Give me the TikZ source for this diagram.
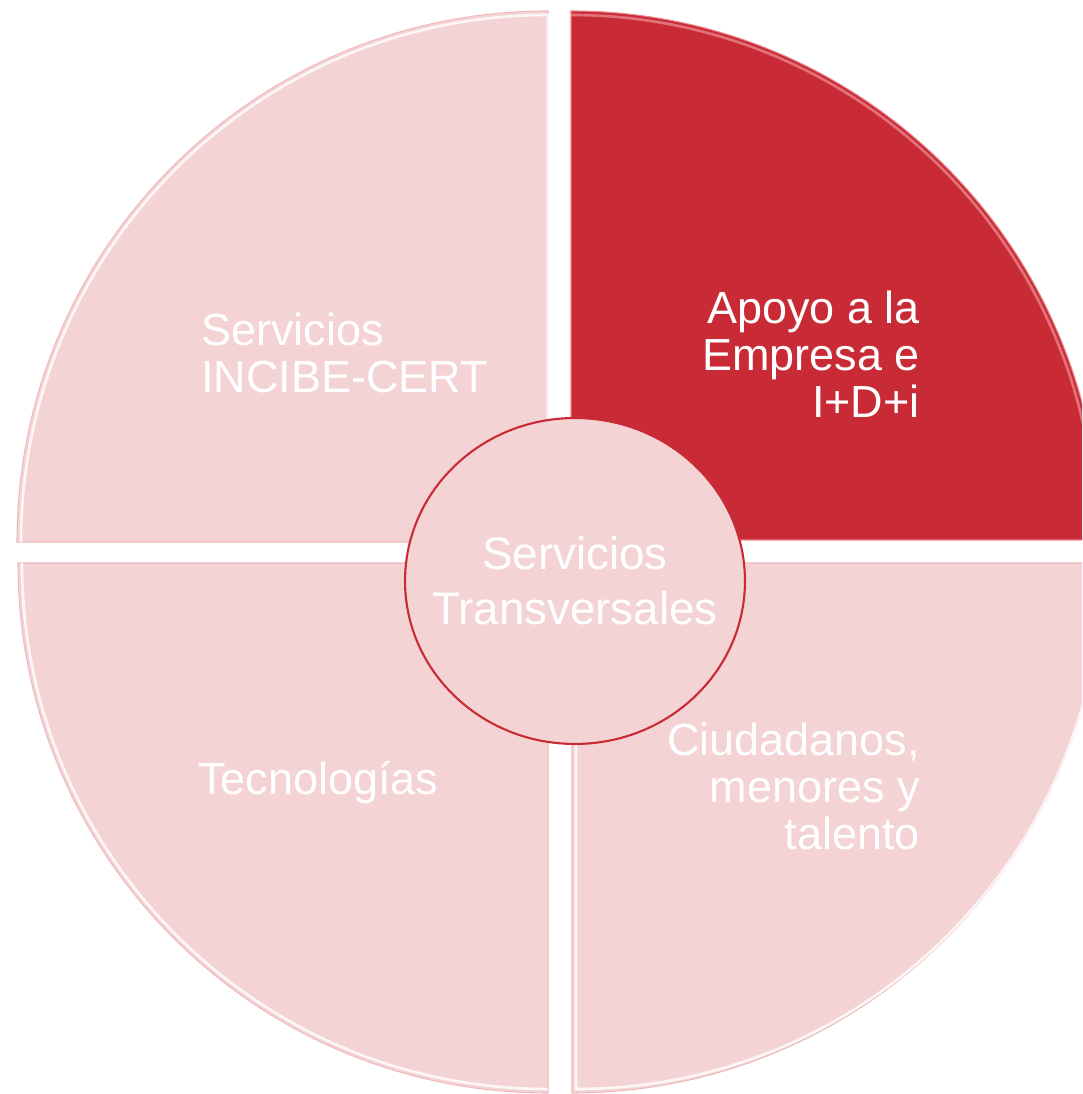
\documentclass[tikz,border=0pt]{standalone}
\usepackage{fontspec}
\setmainfont{Liberation Sans}
\usepackage{xcolor}
\usepackage{tikz}
\usetikzlibrary{shapes.geometric}

\definecolor{segpink}{HTML}{F4D3D5}
\definecolor{segred}{HTML}{C92B36}
\definecolor{rimpink}{HTML}{EFB9BE}
\definecolor{rimred}{HTML}{E9848C}

\begin{document}
\begin{tikzpicture}[
    x=0.02cm, y=0.02cm,
    segment/.style={fill=segpink, draw=rimpink, line width=0.6pt},
    keysegment/.style={fill=segred, draw=rimred, line width=0.6pt},
    rim/.style={draw=white, line width=1.5pt, opacity=0.8},
    label/.style={text=white, inner sep=0pt, font=\fontsize{25.6}{26.7}\selectfont},
    hub/.style={ellipse, draw=segred, line width=1.2pt, fill=segpink, inner sep=0pt,
                minimum width=6.8cm, minimum height=6.52cm},
    hublabel/.style={text=white, inner sep=0pt, align=center,
                font=\fontsize{26}{31.2}\selectfont}
]
\clip (0,0) rectangle (1082,1094);
\useasboundingbox (0,0) rectangle (1082,1094);

% Quarter segments
\path[segment]    (548,552) -- ++(-531,0) arc[start angle=180, end angle=90, radius=531] -- cycle;
\path[keysegment] (571,554) -- ++(0,529) arc[start angle=90, end angle=0, radius=529] -- cycle;
\path[segment]    (548,531) -- ++(-530,0) arc[start angle=180, end angle=270, radius=530] -- cycle;
\path[segment]    (572,531) -- ++(0,-530) arc[start angle=270, end angle=360, radius=530] -- cycle;

% Bevel highlights
\draw[rim] (548,552) ++(-527,0) arc[start angle=180, end angle=90, radius=527] -- ++(0,-527);
\draw[rim, draw=rimred] (571,554) ++(0,525) arc[start angle=90, end angle=0, radius=525];
\draw[rim] (548,531) ++(-526,0) arc[start angle=180, end angle=270, radius=526];
\draw[rim] (572,531) ++(4,0) -- ++(0,-526) arc[start angle=270, end angle=360, radius=526];

% Labels
\node (incibe)     [label, anchor=north west, align=left]  at (201,781) {Servicios\\INCIBE-CERT};
\node (empresa)    [label, anchor=north east, align=right] at (920,803) {Apoyo a la\\Empresa e\\I+D+i};
\node (tecno)      [label, anchor=base west]               at (198,299) {Tecnologías};
\node (ciudadanos) [label, anchor=north east, align=right] at (920,371) {Ciudadanos,\\menores y\\talento};

% Centre
\node (transversal) [hub] at (575,513) {};
\node (transtext)   [hublabel] at (transversal) {Servicios\\Transversales};

\end{tikzpicture}
\end{document}
